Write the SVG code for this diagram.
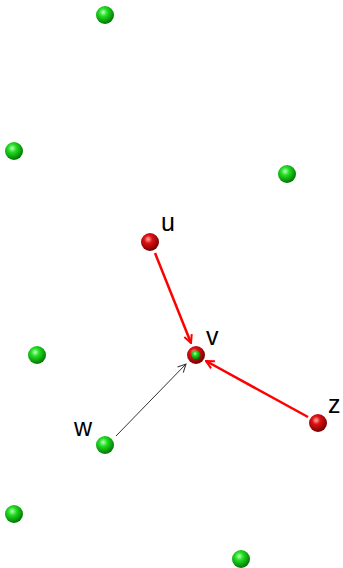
<svg xmlns="http://www.w3.org/2000/svg" width="343" height="568" viewBox="0 0 343 568">
<defs>
<radialGradient id="gG" cx="0.4" cy="0.35" r="0.65">
<stop offset="0" stop-color="#b8ffb8"/>
<stop offset="0.35" stop-color="#22dd22"/>
<stop offset="1" stop-color="#007700"/>
</radialGradient>
<radialGradient id="gR" cx="0.4" cy="0.35" r="0.65">
<stop offset="0" stop-color="#ffaaaa"/>
<stop offset="0.35" stop-color="#dd1111"/>
<stop offset="1" stop-color="#770000"/>
</radialGradient>
<marker id="aR" viewBox="0 0 10 10" refX="9" refY="5" markerWidth="10" markerHeight="10" orient="auto" markerUnits="userSpaceOnUse">
<path d="M1,1 L9,5 L1,9" fill="none" stroke="#ff0000" stroke-width="2"/>
</marker>
<marker id="aK" viewBox="0 0 10 10" refX="9" refY="5" markerWidth="10" markerHeight="10" orient="auto" markerUnits="userSpaceOnUse">
<path d="M1,1 L9,5 L1,9" fill="none" stroke="#333" stroke-width="1"/>
</marker>
<style>
.lbl{font-family:"Liberation Sans",Arial,sans-serif;font-size:25px;fill:#000}
.g{fill:url(#gG)}
.r{fill:url(#gR)}
</style>
</defs>
<g id="edges">
<line x1="155" y1="253" x2="191" y2="343" stroke="#ff0000" stroke-width="2.5" marker-end="url(#aR)"/>
<line x1="308" y1="417" x2="206" y2="361" stroke="#ff0000" stroke-width="2.5" marker-end="url(#aR)"/>
<line x1="116" y1="436" x2="186" y2="364" stroke="#333" stroke-width="1" marker-end="url(#aK)"/>
</g>
<g id="n1"><circle class="g" cx="105" cy="15" r="9"/></g>
<g id="n2"><circle class="g" cx="14" cy="151" r="9"/></g>
<g id="n3"><circle class="g" cx="287" cy="174" r="9"/></g>
<g id="n4"><circle class="g" cx="37" cy="355" r="9"/></g>
<g id="n5"><circle class="g" cx="14" cy="514" r="9"/></g>
<g id="n6"><circle class="g" cx="241" cy="559" r="9"/></g>
<g id="u"><circle class="r" cx="150" cy="242" r="9"/><text class="lbl" x="161" y="231">u</text></g>
<g id="v"><circle class="r" cx="196" cy="355" r="9"/><circle class="g" cx="196" cy="355" r="4.5"/><text class="lbl" x="206" y="345">v</text></g>
<g id="w"><circle class="g" cx="105" cy="445" r="9"/><text class="lbl" x="74" y="436">w</text></g>
<g id="z"><circle class="r" cx="318" cy="423" r="9"/><text class="lbl" x="328" y="413">z</text></g>
</svg>
